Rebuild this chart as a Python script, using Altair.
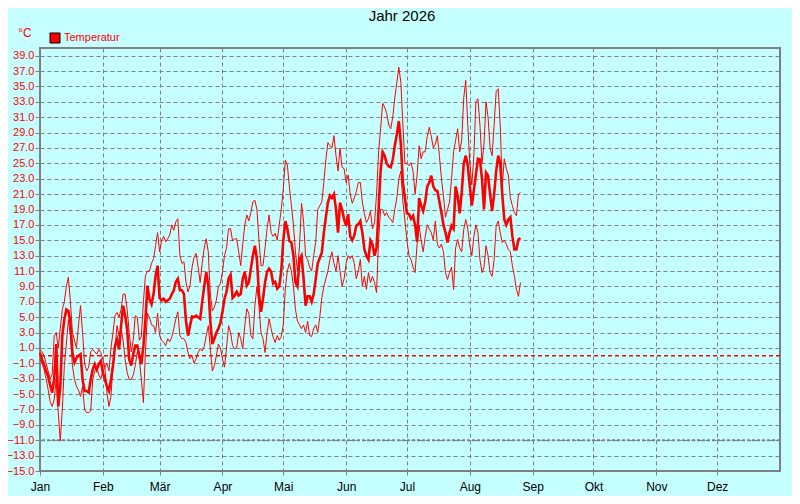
import altair as alt
import pandas as pd

# Daily values, Jan 1 (day 0) .. Aug 26 (day 237)
t_max = [0.8, 0.5, 0.0, -1.0, -2.0, -3.0, -2.5, 2.5, 3.0, 1.0,
         3.5, 6.0, 7.0, 9.0, 10.2, 7.0, 3.0, 2.0, 1.0, 4.0,
         6.5, 3.0, -1.0, -2.0, -1.5, 0.5, 0.8, 0.5, 0.2, 0.8,
         0.4, -0.5, -1.5, -1.0, -2.0, 1.0, 3.0, 5.2, 5.6, 5.0,
         6.0, 8.0, 8.0, 6.0, 3.0, 0.5, 2.0, 5.2, 5.0, 2.0,
         2.5, 7.0, 10.4, 11.0, 11.0, 12.0, 12.6, 14.3, 16.0, 13.5,
         15.0, 15.5, 14.8, 15.2, 15.7, 17.0, 16.3, 17.4, 17.8, 13.0,
         12.0, 12.2, 9.6, 8.3, 9.1, 11.5, 12.8, 13.3, 11.5, 9.5,
         12.0, 14.0, 15.2, 13.5, 8.0, 5.8, 6.3, 7.2, 9.0, 9.4,
         10.9, 13.0, 14.0, 16.5, 16.5, 14.9, 15.2, 15.2, 13.5, 11.7,
         14.5, 17.0, 18.3, 17.5, 18.6, 20.0, 20.2, 19.0, 15.0, 11.7,
         11.7, 14.0, 16.5, 18.3, 16.0, 15.5, 15.9, 15.0, 17.0, 19.0,
         21.7, 25.4, 24.8, 22.0, 19.5, 17.0, 13.5, 11.0, 14.3, 19.8,
         17.5, 13.0, 12.5, 11.5, 11.0, 13.0, 14.8, 19.0, 19.5, 20.0,
         22.5, 25.5, 27.7, 27.3, 27.0, 28.6, 26.0, 24.0, 27.0, 24.5,
         24.3, 22.5, 23.5, 21.0, 19.8, 20.5, 21.3, 22.5, 22.5, 20.0,
         18.5, 17.3, 17.8, 18.8, 16.5, 17.3, 21.0, 26.5, 29.5, 32.8,
         32.3, 31.5, 30.0, 29.5, 31.0, 33.5, 35.5, 37.5, 35.5, 30.0,
         25.0, 25.0, 24.7, 25.1, 24.0, 21.0, 23.5, 27.3, 25.6, 26.5,
         26.5, 28.5, 29.7, 28.5, 27.0, 27.5, 28.6, 26.0, 23.0, 20.8,
         18.0, 19.0, 20.0, 23.0, 26.5, 28.0, 29.5, 26.5, 28.0, 33.5,
         35.8, 30.0, 25.0, 22.2, 26.0, 33.0, 33.4, 30.0, 25.0, 27.5,
         33.0, 31.0, 27.0, 26.0, 30.0, 34.3, 34.7, 30.0, 22.0, 25.6,
         24.3, 23.5, 20.5, 19.5, 18.6, 18.2, 21.0, 21.2]

t_mean = [0.4, -0.5, -1.1, -2.0, -2.7, -3.8, -4.8, -3.0, 1.5, -6.6,
          -4.0, 2.6, 4.7, 6.0, 5.8, 4.3, 0.4, -0.9, -0.3, 0.0,
          0.2, -3.1, -4.6, -4.6, -4.8, -3.1, -1.8, -1.1, -1.8, -1.1,
          -0.7, -2.2, -3.1, -4.0, -4.6, -3.1, -1.3, 1.3, 2.1, 0.8,
          3.9, 6.5, 5.2, 3.4, -0.5, -1.3, 0.2, 1.3, 1.3, 0.0,
          -1.1, 1.3, 4.7, 9.1, 7.3, 6.7, 8.0, 10.4, 11.7, 7.5,
          7.2, 7.4, 7.0, 7.2, 7.4, 8.0, 8.5, 9.6, 10.0, 8.5,
          8.5, 8.0, 4.5, 2.6, 3.9, 5.1, 5.0, 5.2, 5.0, 4.8,
          7.0, 9.0, 10.9, 9.1, 4.5, 1.5, 2.2, 3.0, 3.5, 4.3,
          5.7, 7.4, 8.3, 10.0, 10.5, 7.5, 7.8, 8.3, 7.8, 8.0,
          10.0, 10.9, 9.1, 9.5, 11.3, 13.0, 14.3, 12.5, 8.0, 5.7,
          7.4, 9.5, 10.9, 11.3, 10.9, 9.4, 9.6, 8.7, 9.0, 11.0,
          15.0, 17.5, 16.5, 14.9, 14.7, 13.0, 9.5, 9.0, 12.5, 13.0,
          10.0, 6.5, 7.7, 7.7, 7.0, 8.0, 10.0, 12.0, 12.7, 13.4,
          16.0, 18.0, 19.9, 20.8, 20.5, 21.0, 19.0, 16.0, 19.9, 19.0,
          17.7, 16.9, 18.4, 15.5, 15.0, 15.6, 16.9, 17.1, 17.5, 16.0,
          13.8, 13.0, 12.5, 15.0, 14.5, 13.0, 14.0, 19.0, 24.0, 26.5,
          26.0, 25.0, 24.6, 24.5, 25.5, 27.3, 28.8, 30.5, 27.5, 22.5,
          20.5, 18.5, 18.4, 17.8, 18.2, 17.0, 14.8, 20.5, 19.5, 18.8,
          20.0, 22.0, 22.5, 23.4, 22.0, 21.5, 21.4, 20.0, 18.6, 17.0,
          16.0, 14.7, 16.0, 16.9, 16.5, 22.0, 20.8, 18.5, 21.2, 25.0,
          26.0, 24.7, 22.0, 19.5, 21.5, 23.5, 25.6, 25.5, 23.0, 19.0,
          23.8, 23.4, 21.0, 18.8, 21.0, 24.0, 26.0, 25.0, 21.0, 17.7,
          17.0, 17.7, 18.0, 15.5, 13.8, 13.8, 15.1, 15.3]

t_min = [-0.5, -1.0, -1.8, -3.0, -4.4, -6.0, -6.6, -5.7, -3.0, -7.4,
         -11.1, -7.0, -1.3, 1.5, 4.7, 2.6, -1.3, -3.1, -4.0, -4.5,
         -5.3, -4.0, -7.0, -7.4, -7.4, -7.2, -3.1, -2.0, -1.5, -2.5,
         -3.0, -2.0, -1.5, -4.8, -6.6, -5.3, -1.3, 1.0, 3.9, 2.5,
         3.5, 2.0, -0.5, -2.2, -3.1, -3.1, -2.5, -1.3, 0.5, -0.5,
         -3.1, -6.1, 0.5, 5.5, 5.0, 4.0, 3.9, 3.0, 5.5, 2.6,
         2.0, 1.7, 1.3, 2.2, 1.8, 2.4, 3.5, 4.8, 5.7, 2.6,
         2.2, 2.2, 1.7, 0.4, -0.4, 0.0, -1.0, -0.4, 0.4, 0.9,
         0.6, 1.2, 2.6, 3.9, 1.0, -2.0, -1.3, 0.0, 1.5, 1.0,
         -0.4, -1.5, 1.0, 3.9, 3.0, 1.3, 0.9, 1.0, 3.0, 2.2,
         0.9, 3.9, 6.1, 5.5, 2.6, 2.2, 6.5, 9.0, 6.5, 3.0,
         2.2, 0.4, 3.0, 4.8, 3.5, 2.4, 1.7, 2.6, 2.0, 2.5,
         4.0, 8.7, 11.0, 12.0, 11.0, 9.0, 6.0, 4.5, 4.0, 3.5,
         4.0, 3.0, 4.5, 2.6, 2.5, 3.5, 4.0, 3.0, 5.0, 7.5,
         9.0, 10.0, 11.0, 12.5, 13.5, 12.0, 11.0, 13.0, 11.0, 9.0,
         10.0, 12.0, 13.0, 12.6, 13.0, 12.0, 10.0, 11.0, 12.5, 9.0,
         10.3, 8.6, 10.8, 9.5, 10.3, 9.5, 8.2, 15.0, 19.0, 19.0,
         18.2, 18.6, 18.0, 17.7, 17.3, 19.0, 20.5, 23.0, 24.0, 20.0,
         17.5, 15.0, 13.0, 12.5, 11.5, 10.8, 14.5, 16.9, 15.0, 13.5,
         15.5, 17.0, 16.5, 16.0, 15.0, 17.5, 14.5, 14.0, 14.5, 13.5,
         10.8, 9.9, 10.8, 11.5, 8.6, 14.0, 15.1, 14.0, 13.5, 16.4,
         17.7, 16.5, 14.3, 13.0, 15.5, 17.0, 16.0, 12.5, 10.8, 11.5,
         14.3, 13.0, 10.8, 10.3, 12.5, 16.9, 17.5, 16.0, 14.7, 15.0,
         14.5, 13.8, 13.5, 11.7, 10.3, 8.6, 7.7, 9.5]

days = list(range(len(t_mean)))

month_starts = [0, 31, 59, 90, 120, 151, 181, 212, 243, 273, 304, 334]
month_names = ["Jan", "Feb", "Mär", "Apr", "Mai", "Jun", "Jul", "Aug",
               "Sep", "Okt", "Nov", "Dez"]
y_ticks = list(range(-15, 40, 2))

title_text = "Jahr 2026"
legend_label = "Temperatur"
unit_label = "°C"

df = pd.DataFrame({"day": days, "tmax": t_max, "tmean": t_mean, "tmin": t_min})

FONT = "Liberation Sans"
GRID = "#808080"
YDOM = alt.Scale(domain=[-15, 40], nice=False, zero=False)

label_expr = ("[" + ",".join(f"'{m}'" for m in month_names) + "][indexof(["
              + ",".join(str(v) for v in month_starts) + "], datum.value)]")

x_enc = alt.X("day:Q",
              scale=alt.Scale(domain=[0, 365], nice=False, zero=False),
              axis=alt.Axis(values=month_starts, tickCount=len(month_starts),
                            labelExpr=label_expr, title=None,
                            grid=True, gridDash=[4, 3], gridColor=GRID, gridWidth=1,
                            gridOpacity=1, domain=False, ticks=True, tickSize=4,
                            tickColor=GRID, labelColor="black", labelFontSize=12,
                            labelFont=FONT, labelPadding=6, labelFlush=False,
                            labelOverlap=False))

y_axis = alt.Axis(values=y_ticks, tickCount=len(y_ticks), format=".1f", title=None,
                  grid=True, gridDash=[4, 3], gridColor=GRID,
                  gridWidth=1, gridOpacity=1, domain=False,
                  ticks=True, tickSize=5, tickColor=GRID,
                  labelColor="red", labelFontSize=11, labelFont=FONT,
                  labelPadding=1, labelOverlap=False, labelFlush=False)

def y_enc(field):
    return alt.Y(f"{field}:Q", scale=YDOM, axis=y_axis)

base = alt.Chart(df)

line_max = base.mark_line(color="red", strokeWidth=1).encode(x=x_enc, y=y_enc("tmax"))
line_min = base.mark_line(color="red", strokeWidth=1).encode(x=x_enc, y=y_enc("tmin"))
line_mean = base.mark_line(color="red", strokeWidth=2.6).encode(x=x_enc, y=y_enc("tmean"))

zero_rule = alt.Chart(pd.DataFrame({"v": [0.0]})).mark_rule(
    stroke="#ff0000", color="#ff0000", strokeDash=[4, 3], strokeWidth=1.5,
    strokeOpacity=1).encode(
    y=alt.Y("v:Q", scale=YDOM, axis=y_axis))

frost_rule = alt.Chart(pd.DataFrame({"v": [-11.0]})).mark_rule(
    stroke=GRID, color=GRID, strokeDash=[3, 2], strokeWidth=2).encode(
    y=alt.Y("v:Q", scale=YDOM, axis=y_axis))

one = pd.DataFrame({"t": [legend_label]})
title_mark = alt.Chart(pd.DataFrame({"t": [title_text]})).mark_text(
    fontSize=15, font=FONT, color="black", align="center", baseline="middle").encode(
    x=alt.value(362), y=alt.value(-32), text="t:N")
unit_mark = alt.Chart(pd.DataFrame({"t": [unit_label]})).mark_text(
    fontSize=12, font=FONT, color="red", align="center", baseline="middle").encode(
    x=alt.value(-15), y=alt.value(-15), text="t:N")
legend_sym = alt.Chart(one).mark_square(size=100, color="red", stroke="black",
                                         strokeWidth=1, opacity=1).encode(
    x=alt.value(15), y=alt.value(-10))
legend_txt = alt.Chart(one).mark_text(fontSize=11, font=FONT, color="red",
                                      align="left", baseline="middle").encode(
    x=alt.value(24), y=alt.value(-10), text="t:N")

chart = alt.layer(
    frost_rule, line_max, line_min, line_mean, zero_rule,
    title_mark, unit_mark, legend_sym, legend_txt
).properties(
    width=740, height=423,
    padding={"left": 32, "top": 40, "right": 12, "bottom": 25},
    autosize=alt.AutoSizeParams(type="none"),
    background="#c6ffff",
).configure_view(stroke=GRID, strokeWidth=2)

chart.save("out.html", embed_options={"renderer": "svg", "actions": False})
